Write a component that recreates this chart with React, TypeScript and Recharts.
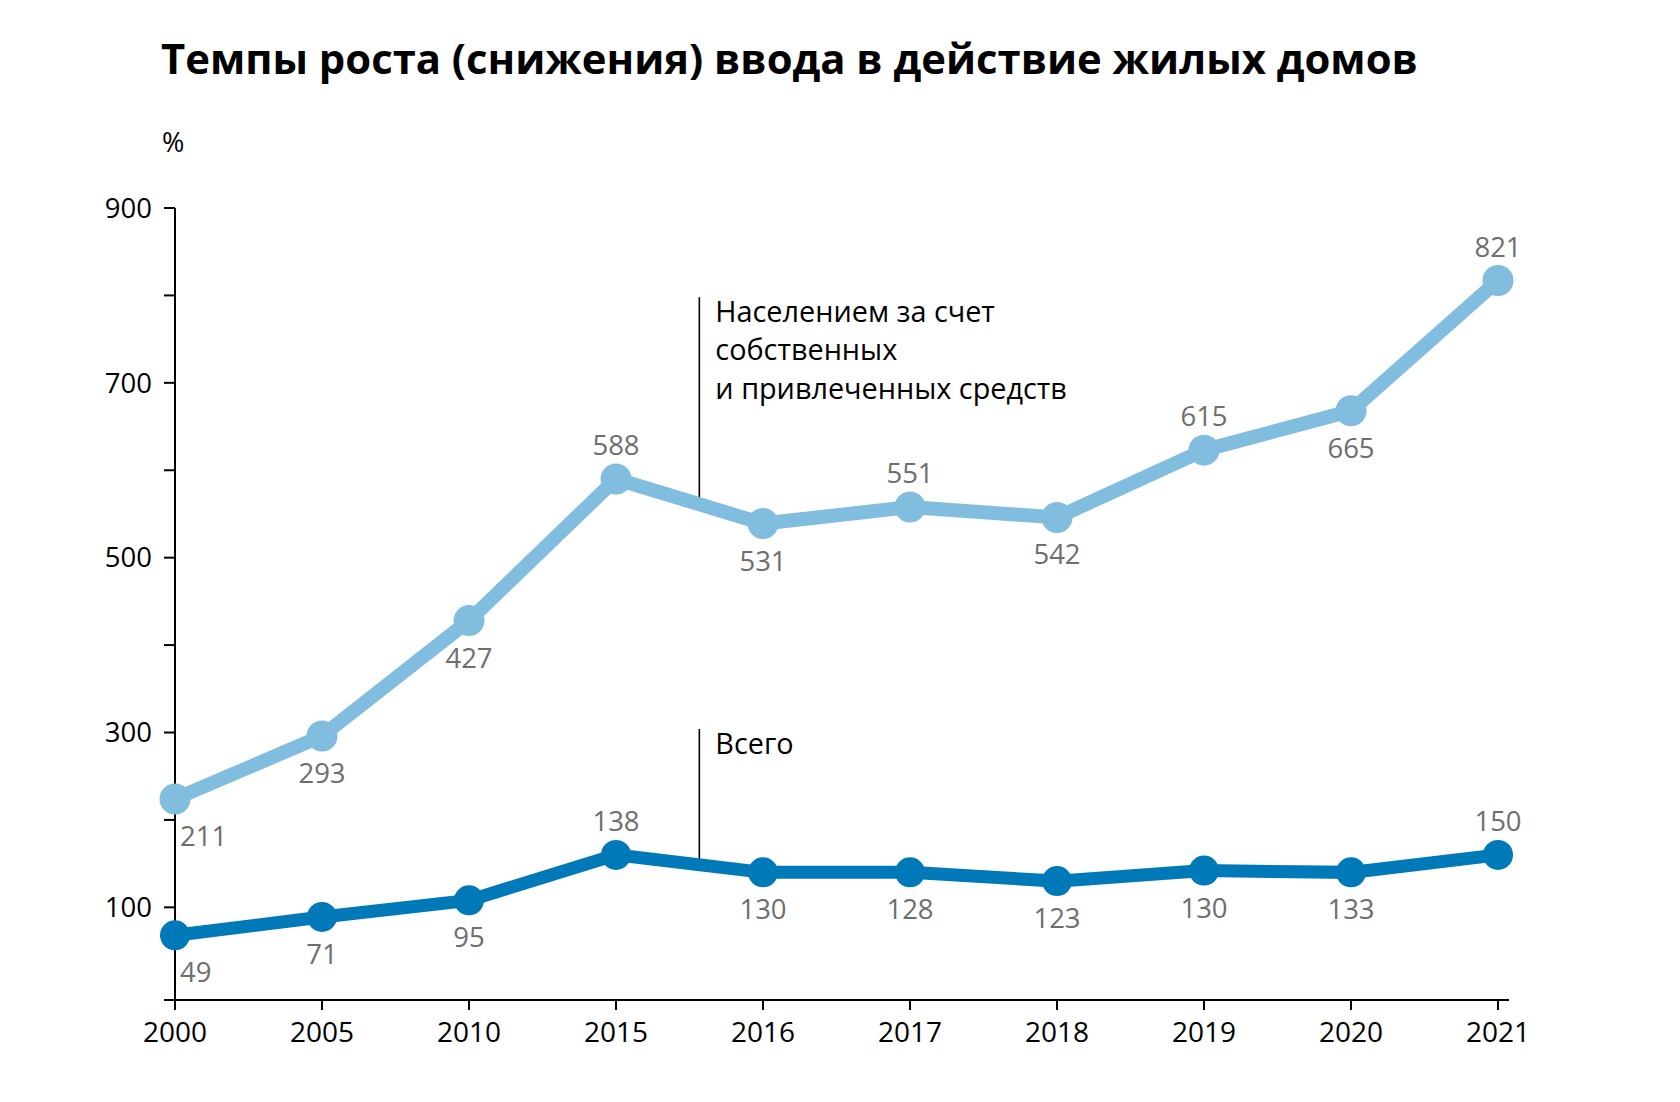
import React from 'react';
import { LineChart, Line, XAxis, YAxis, LabelList, ReferenceLine } from 'recharts';

const years = ['2000', '2005', '2010', '2015', '2016', '2017', '2018', '2019', '2020', '2021'];
const populationValues = [224, 296, 428, 590, 539, 558, 546, 623, 668, 817];
const totalValues = [68, 89, 108, 160, 140, 140, 130, 142, 140, 160];
const populationLabels = ['211', '293', '427', '588', '531', '551', '542', '615', '665', '821'];
const totalLabels = ['49', '71', '95', '138', '130', '128', '123', '130', '133', '150'];
const populationLabelSide = ['below', 'below', 'below', 'above', 'below', 'above', 'below', 'above', 'below', 'above'];
const totalLabelSide = ['below', 'below', 'below', 'above', 'below', 'below', 'below', 'below', 'below', 'above'];
const yTicks = [-6, 100, 200, 300, 400, 500, 600, 700, 800, 900];
const yLabeled = [100, 300, 500, 700, 900];

const title = 'Темпы роста (снижения) ввода в действие жилых домов';
const unit = '%';
const populationNote = ['Населением за счет', 'собственных', 'и привлеченных средств'];
const totalNote = ['Всего'];
const notePosition = 3.567;
const populationNoteRange = [565, 798];
const totalNoteRange = [146, 304];

const LIGHT = '#80bddf';
const DARK = '#0079b9';
const GREY = '#6e6e6e';
const FONT = '"Open Sans", "Noto Sans", sans-serif';

const data = years.map((year, i) => ({
  i,
  year,
  population: populationValues[i],
  total: totalValues[i],
  populationLabel: populationLabels[i],
  totalLabel: totalLabels[i],
}));

const makeLabel = (sides: string[]) => (props: any) => {
  const { x, y, value, index } = props;
  if (x == null || y == null) return null;
  const below = sides[index] === 'below';
  const first = index === 0;
  return (
    <text
      x={first ? x + 5 : x}
      y={below ? y + 47 : y - 24}
      textAnchor={first ? 'start' : 'middle'}
      fill={GREY}
      fontSize={27.5}
      fontFamily={FONT}
    >
      {value}
    </text>
  );
};

const makeNote = (lines: string[]) => (props: any) => {
  const vb = props.viewBox || {};
  const x = vb.x ?? 0;
  const y = vb.y ?? 0;
  return (
    <text x={x + 16} y={y + 25} fill="#000" fontSize={28.8} fontFamily={FONT}>
      {lines.map((l, k) => (
        <tspan key={k} x={x + 16} dy={k === 0 ? 0 : 38.3}>
          {l}
        </tspan>
      ))}
    </text>
  );
};

const YTick = (props: any) => {
  const { x, y, payload } = props;
  if (!yLabeled.includes(payload.value)) return null;
  return (
    <text x={x} y={y} dy="0.355em" textAnchor="end" fill="#000" fontSize={27.5} fontFamily={FONT}>
      {payload.value}
    </text>
  );
};

export default function App() {
  return (
    <div style={{ position: 'absolute', left: 0, top: 0, width: 1680, height: 1102, background: '#fff' }}>
      <LineChart
        width={1680}
        height={1102}
        data={data}
        margin={{ top: 208, right: 171, bottom: 42, left: 95 }}
        style={{ position: 'absolute', left: 0, top: 0 }}
      >
        <XAxis
          type="number"
          dataKey="i"
          domain={[0, 9]}
          ticks={[0, 1, 2, 3, 4, 5, 6, 7, 8, 9]}
          interval={0}
          padding={{ left: 0, right: 11 }}
          tickFormatter={(v: number) => years[v]}
          height={60}
          tickSize={10}
          tickMargin={12}
          axisLine={{ stroke: '#000', strokeWidth: 2 }}
          tickLine={{ stroke: '#000', strokeWidth: 2 }}
          tick={{ fill: '#000', fontSize: 28, fontFamily: FONT }}
        />
        <YAxis
          type="number"
          domain={[-6, 900]}
          ticks={yTicks}
          interval={0}
          allowDataOverflow
          width={80}
          tickSize={11}
          tickMargin={12}
          axisLine={{ stroke: '#000', strokeWidth: 2 }}
          tickLine={{ stroke: '#000', strokeWidth: 2 }}
          tick={<YTick />}
        />
        <ReferenceLine
          segment={[
            { x: notePosition, y: populationNoteRange[1] },
            { x: notePosition, y: populationNoteRange[0] },
          ]}
          stroke="#000"
          strokeWidth={1.6}
          label={makeNote(populationNote)}
        />
        <ReferenceLine
          segment={[
            { x: notePosition, y: totalNoteRange[1] },
            { x: notePosition, y: totalNoteRange[0] },
          ]}
          stroke="#000"
          strokeWidth={1.6}
          label={makeNote(totalNote)}
        />
        <Line
          dataKey="population"
          stroke={LIGHT}
          strokeWidth={14}
          dot={{ r: 15.5, fill: LIGHT, stroke: LIGHT, strokeWidth: 0 }}
          activeDot={false}
          isAnimationActive={false}
        >
          <LabelList dataKey="populationLabel" content={makeLabel(populationLabelSide)} />
        </Line>
        <Line
          dataKey="total"
          stroke={DARK}
          strokeWidth={13}
          dot={{ r: 15, fill: DARK, stroke: DARK, strokeWidth: 0 }}
          activeDot={false}
          isAnimationActive={false}
        >
          <LabelList dataKey="totalLabel" content={makeLabel(totalLabelSide)} />
        </Line>
      </LineChart>
      <svg
        width={1680}
        height={1102}
        style={{ position: 'absolute', left: 0, top: 0, pointerEvents: 'none' }}
      >
        <text x={161} y={74} fontSize={41.8} fontWeight={700} fill="#000" fontFamily={FONT}>
          {title}
        </text>
        <text x={162} y={152} fontSize={27} fill="#000" fontFamily={FONT}>
          {unit}
        </text>
      </svg>
    </div>
  );
}
